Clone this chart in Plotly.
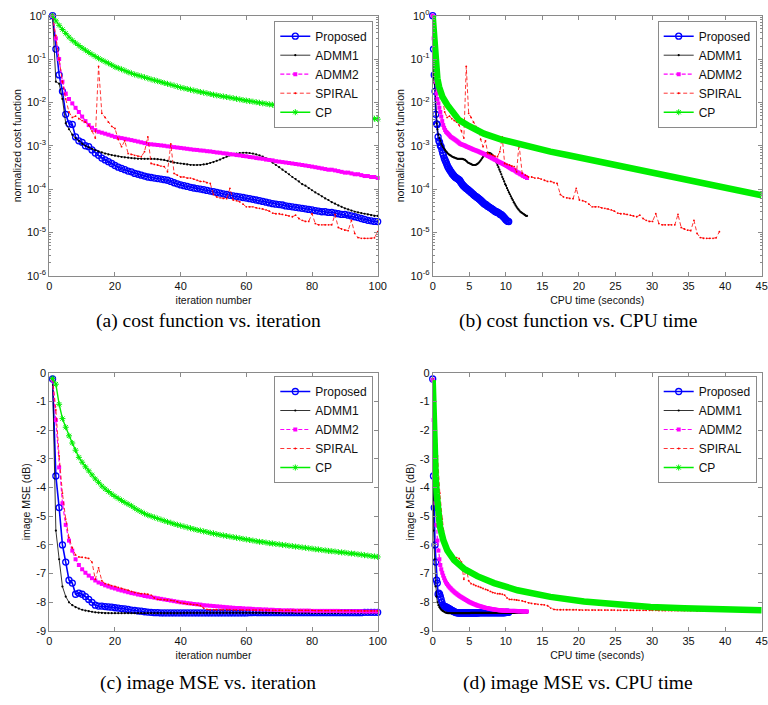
import numpy as np
import plotly.graph_objects as go

W, H = 768, 705

iterations = list(range(1, 101))

# ---------------- (a) normalized cost function vs iteration ----------------
cost_proposed = [
    1.0, 0.17, 0.043, 0.018, 0.0053, 0.0032, 0.0031, 0.0016, 0.0013, 0.0012,
    0.001, 0.00095, 0.0008, 0.00068, 0.0006, 0.00052, 0.00047, 0.00043, 0.00039, 0.00035,
    0.00032, 0.0003, 0.00028, 0.00026, 0.00025, 0.00023, 0.00022, 0.00021, 0.0002, 0.00019,
    0.000185, 0.00018, 0.000175, 0.00017, 0.000165, 0.00016, 0.00015, 0.00014, 0.000132, 0.000125,
    0.00012, 0.000115, 0.00011, 0.000106, 0.000103, 0.0001, 0.000097, 0.000093, 0.00009, 0.000087,
    0.000084, 0.000081, 0.000078, 0.000075, 0.000072, 0.00007, 0.000068, 0.000066, 0.000064, 0.000062,
    0.00006, 0.000058, 0.000056, 0.000054, 0.000052, 0.00005, 0.000048, 0.000046, 0.000045, 0.000044,
    0.000043, 0.000041, 0.00004, 0.000039, 0.000038, 0.000037, 0.000036, 0.000035, 0.000034, 0.000033,
    0.000032, 0.000031, 0.00003, 0.00003, 0.000029, 0.000029, 0.000028, 0.000027, 0.000026, 0.000026,
    0.000025, 0.000024, 0.000023, 0.000022, 0.000021, 0.00002, 0.000019, 0.0000185, 0.000018, 0.0000178]

cost_admm1 = [
    1.0, 0.03, 0.027, 0.012, 0.0033, 0.0024, 0.0018, 0.0015, 0.0013, 0.0011,
    0.001, 0.00092, 0.00085, 0.00079, 0.00074, 0.0007, 0.00066, 0.00063, 0.00061, 0.00059,
    0.00057, 0.00055, 0.00054, 0.00053, 0.00052, 0.00051, 0.0005, 0.0005, 0.0005, 0.0005,
    0.0005, 0.0005, 0.00049, 0.00048, 0.00047, 0.00045, 0.00043, 0.00041, 0.0004, 0.00039,
    0.00038, 0.00037, 0.00036, 0.00036, 0.00036, 0.00036, 0.00037, 0.00038, 0.0004, 0.00042,
    0.00045, 0.00048, 0.00052, 0.00056, 0.0006, 0.00063, 0.00066, 0.00068, 0.00069, 0.00069,
    0.00068, 0.00066, 0.00063, 0.0006, 0.00056, 0.00051, 0.00046, 0.00041, 0.00036, 0.00032,
    0.00028, 0.00025, 0.00022, 0.00019, 0.00017, 0.00015, 0.00013, 0.00012, 0.000105, 0.000094,
    0.000084, 0.000076, 0.000068, 0.000061, 0.000056, 0.00005, 0.000046, 0.000042, 0.000039, 0.000036,
    0.000034, 0.000032, 0.00003, 0.000029, 0.000028, 0.000027, 0.000026, 0.000025, 0.000024, 0.000024]

cost_admm2 = [
    1.0, 0.3, 0.1, 0.03, 0.016, 0.012, 0.0095, 0.0075, 0.006, 0.0047,
    0.0037, 0.003, 0.0026, 0.0023, 0.0021, 0.002, 0.0019, 0.0018, 0.0017, 0.0016,
    0.00155, 0.0015, 0.00145, 0.0014, 0.00135, 0.0013, 0.00125, 0.0012, 0.00115, 0.0011,
    0.00108, 0.00106, 0.00104, 0.00102, 0.001, 0.00097, 0.00095, 0.00093, 0.00091, 0.00089,
    0.00087, 0.00085, 0.00083, 0.00081, 0.0008, 0.00078, 0.00077, 0.00075, 0.00074, 0.00072,
    0.0007, 0.00069, 0.00067, 0.00066, 0.00064, 0.00063, 0.00061, 0.0006, 0.00058, 0.00057,
    0.00055, 0.00054, 0.00052, 0.00051, 0.0005, 0.00048, 0.00047, 0.00046, 0.00044, 0.00043,
    0.00042, 0.00041, 0.0004, 0.00039, 0.00038, 0.00037, 0.00036, 0.00035, 0.00034, 0.00033,
    0.00032, 0.00031, 0.0003, 0.00029, 0.00028, 0.00028, 0.00027, 0.00026, 0.00025, 0.00024,
    0.00024, 0.00023, 0.00022, 0.00022, 0.00021, 0.0002, 0.0002, 0.00019, 0.00019, 0.00018]

cost_spiral = [
    1.0, 0.35, 0.1, 0.03, 0.012, 0.006, 0.0045, 0.0048, 0.0042, 0.0038,
    0.0035, 0.003, 0.0022, 0.0015, 0.068, 0.0056, 0.0045, 0.0035, 0.0028, 0.0025,
    0.0014, 0.00095, 0.0013, 0.00066, 0.00063, 0.0006, 0.00057, 0.00056, 0.00073, 0.0016,
    0.00039, 0.00037, 0.00036, 0.00034, 0.00033, 0.00025, 0.0011, 0.00023, 0.00021, 0.00019,
    0.00019, 0.00018, 0.00018, 0.00017, 0.00016, 0.00015, 0.00015, 0.00014, 0.000135, 0.000075,
    0.000066, 0.000063, 0.000061, 0.00006, 0.000104, 0.000056, 0.000054, 0.000051, 0.000045, 0.000039,
    0.000039, 0.000039, 0.000037, 0.000036, 0.000035, 0.000033, 0.000031, 0.000028, 0.000027, 0.000027,
    0.000026, 0.000025, 0.000024, 0.000023, 0.000025, 0.000021, 0.000019, 0.000018, 0.000018, 0.000027,
    0.000016, 0.000015, 0.000015, 0.000015, 0.000015, 0.000015, 0.000026, 0.000013, 0.000012, 0.0000113,
    0.000011, 0.000019, 0.0000095, 0.0000076, 0.0000073, 0.0000073, 0.0000073, 0.0000073, 0.0000075, 0.0000104]

cost_cp = [
    1.0, 0.76, 0.6, 0.48, 0.39, 0.32, 0.27, 0.235, 0.205, 0.18,
    0.16, 0.143, 0.128, 0.115, 0.104, 0.095, 0.087, 0.08, 0.073, 0.066,
    0.062, 0.058, 0.054, 0.05, 0.047, 0.044, 0.042, 0.04, 0.038, 0.036,
    0.034, 0.0325, 0.031, 0.0295, 0.028, 0.0268, 0.0256, 0.0244, 0.0232, 0.022,
    0.0212, 0.0204, 0.0196, 0.0188, 0.0181, 0.0174, 0.0168, 0.0162, 0.0156, 0.015,
    0.0145, 0.0141, 0.0137, 0.0133, 0.0129, 0.0125, 0.0121, 0.0117, 0.0113, 0.011,
    0.0107, 0.0104, 0.0101, 0.0098, 0.0095, 0.0093, 0.009, 0.0088, 0.0085, 0.0083,
    0.0081, 0.0079, 0.0077, 0.0075, 0.0073, 0.0071, 0.0069, 0.0068, 0.0066, 0.0065,
    0.0063, 0.0062, 0.006, 0.0059, 0.0058, 0.0056, 0.0055, 0.0054, 0.0052, 0.0051,
    0.005, 0.0049, 0.0048, 0.0047, 0.0046, 0.0045, 0.0044, 0.0043, 0.0042, 0.0041]

# ---------------- (c) image MSE (dB) vs iteration ----------------
mse_proposed = [
    -0.22, -3.6, -4.7, -6.0, -6.6, -7.23, -7.33, -7.72, -7.68, -7.72,
    -7.8, -7.9, -8.0, -8.1, -8.13, -8.13, -8.15, -8.16, -8.17, -8.19,
    -8.2, -8.22, -8.23, -8.25, -8.27, -8.28, -8.3, -8.31, -8.33, -8.34,
    -8.35, -8.36, -8.36, -8.37, -8.37, -8.37, -8.37, -8.37, -8.37, -8.37,
    -8.37, -8.37, -8.37, -8.37, -8.37, -8.37, -8.37, -8.37, -8.37, -8.37,
    -8.37, -8.37, -8.37, -8.37, -8.37, -8.37, -8.37, -8.37, -8.37, -8.37,
    -8.36, -8.36, -8.36, -8.36, -8.36, -8.36, -8.36, -8.36, -8.36, -8.36,
    -8.36, -8.36, -8.36, -8.36, -8.36, -8.36, -8.36, -8.36, -8.36, -8.36,
    -8.36, -8.36, -8.36, -8.36, -8.36, -8.36, -8.36, -8.36, -8.36, -8.36,
    -8.36, -8.36, -8.36, -8.36, -8.36, -8.35, -8.35, -8.35, -8.35, -8.35]

mse_admm1 = [
    -0.22, -5.5, -6.5, -7.45, -7.8, -8.0, -8.1, -8.17, -8.22, -8.26,
    -8.29, -8.31, -8.33, -8.35, -8.36, -8.37, -8.38, -8.38, -8.38, -8.38,
    -8.38, -8.38, -8.38, -8.38, -8.38, -8.38, -8.38, -8.38, -8.38, -8.38,
    -8.38, -8.38, -8.38, -8.38, -8.38, -8.38, -8.38, -8.38, -8.38, -8.38,
    -8.37, -8.37, -8.37, -8.37, -8.37, -8.37, -8.37, -8.37, -8.37, -8.37,
    -8.37, -8.37, -8.37, -8.37, -8.37, -8.37, -8.37, -8.37, -8.37, -8.37,
    -8.37, -8.37, -8.37, -8.37, -8.37, -8.37, -8.37, -8.37, -8.37, -8.37,
    -8.37, -8.37, -8.37, -8.37, -8.37, -8.37, -8.37, -8.37, -8.37, -8.37,
    -8.37, -8.37, -8.37, -8.37, -8.37, -8.37, -8.37, -8.37, -8.37, -8.37,
    -8.36, -8.36, -8.36, -8.36, -8.36, -8.36, -8.36, -8.36, -8.36, -8.36]

mse_admm2 = [
    -0.25, -1.65, -3.3, -4.55, -5.3, -5.85, -6.2, -6.5, -6.7, -6.85,
    -6.97, -7.07, -7.16, -7.24, -7.31, -7.36, -7.41, -7.45, -7.49, -7.52,
    -7.56, -7.59, -7.62, -7.65, -7.68, -7.7, -7.73, -7.75, -7.78, -7.8,
    -7.82, -7.84, -7.86, -7.88, -7.9, -7.92, -7.94, -7.96, -7.98, -8.0,
    -8.01, -8.03, -8.04, -8.06, -8.07, -8.08, -8.1, -8.11, -8.12, -8.13,
    -8.14, -8.15, -8.16, -8.17, -8.18, -8.19, -8.2, -8.2, -8.21, -8.22,
    -8.22, -8.23, -8.24, -8.24, -8.25, -8.25, -8.26, -8.26, -8.27, -8.27,
    -8.28, -8.28, -8.28, -8.28, -8.29, -8.29, -8.29, -8.29, -8.29, -8.3,
    -8.3, -8.3, -8.3, -8.3, -8.3, -8.3, -8.3, -8.3, -8.31, -8.31,
    -8.31, -8.31, -8.31, -8.31, -8.31, -8.32, -8.32, -8.32, -8.32, -8.32]

mse_spiral = [
    -0.2, -1.3, -2.9, -4.2, -5.1, -5.75, -6.1, -6.35, -6.42, -6.43,
    -6.44, -6.47, -6.6, -7.2, -6.8, -7.25, -7.35, -7.38, -7.42, -7.45,
    -7.48, -7.52, -7.55, -7.58, -7.62, -7.66, -7.68, -7.7, -7.7, -7.72,
    -7.75, -7.85, -7.9, -7.9, -7.91, -7.92, -7.93, -7.95, -7.98, -8.02,
    -8.04, -8.06, -8.07, -8.08, -8.09, -8.12, -8.2, -8.25, -8.26, -8.26,
    -8.26, -8.26, -8.26, -8.26, -8.26, -8.27, -8.27, -8.27, -8.27, -8.27,
    -8.27, -8.27, -8.27, -8.27, -8.27, -8.27, -8.27, -8.28, -8.28, -8.28,
    -8.28, -8.28, -8.28, -8.28, -8.28, -8.28, -8.28, -8.28, -8.28, -8.28,
    -8.29, -8.29, -8.29, -8.29, -8.29, -8.29, -8.29, -8.29, -8.29, -8.29,
    -8.29, -8.29, -8.3, -8.3, -8.3, -8.3, -8.3, -8.3, -8.3, -8.3]

mse_cp = [
    -0.2, -0.4, -1.1, -1.6, -1.9, -2.2, -2.45, -2.7, -2.95, -3.12,
    -3.28, -3.42, -3.56, -3.7, -3.82, -3.95, -4.05, -4.14, -4.23, -4.31,
    -4.38, -4.45, -4.52, -4.58, -4.64, -4.72, -4.79, -4.85, -4.91, -4.96,
    -5.0, -5.04, -5.08, -5.12, -5.16, -5.2, -5.23, -5.27, -5.3, -5.33,
    -5.36, -5.39, -5.42, -5.45, -5.48, -5.5, -5.53, -5.55, -5.58, -5.6,
    -5.63, -5.65, -5.67, -5.69, -5.71, -5.73, -5.75, -5.77, -5.79, -5.81,
    -5.83, -5.85, -5.87, -5.89, -5.9, -5.92, -5.94, -5.95, -5.97, -5.98,
    -6.0, -6.01, -6.03, -6.04, -6.06, -6.07, -6.09, -6.1, -6.12, -6.13,
    -6.15, -6.16, -6.18, -6.19, -6.21, -6.22, -6.23, -6.25, -6.26, -6.27,
    -6.29, -6.3, -6.31, -6.33, -6.34, -6.36, -6.37, -6.39, -6.4, -6.42]

# ---------------- CPU time (seconds) ----------------
cpu_total_proposed = 10.4   # time at iteration 100
cpu_total_admm1 = 12.9
cpu_total_admm2 = 12.9
cpu_spiral = [
    0.0, 0.33, 0.66, 0.98, 1.31, 1.64, 1.97, 2.3, 2.62, 2.95,
    3.28, 3.61, 3.94, 4.26, 4.59, 4.92, 5.25, 5.58, 5.9, 6.23,
    6.56, 6.89, 7.22, 7.54, 7.87, 8.2, 8.53, 8.86, 9.18, 9.51,
    9.84, 10.17, 10.5, 10.82, 11.15, 11.48, 11.8, 12.24, 12.67, 13.11,
    13.54, 13.98, 14.41, 14.85, 15.28, 15.72, 16.15, 16.59, 17.02, 17.46,
    17.89, 18.33, 18.76, 19.2, 19.63, 20.07, 20.5, 20.94, 21.37, 21.81,
    22.24, 22.68, 23.11, 23.55, 23.98, 24.42, 24.85, 25.29, 25.72, 26.16,
    26.59, 27.03, 27.46, 27.9, 28.33, 28.77, 29.2, 29.64, 30.07, 30.51,
    30.94, 31.38, 31.81, 32.25, 32.68, 33.12, 33.55, 33.99, 34.42, 34.86,
    35.29, 35.73, 36.16, 36.6, 37.03, 37.47, 37.9, 38.34, 38.77, 39.21]

# CP was run longer in the CPU-time plots
cp_long_time_cost = [0, 0.09, 0.18, 0.32, 0.5, 0.64, 0.87, 1.32, 2.0, 2.46, 3.6, 4.74, 7.0, 9.3,
                     11.6, 13.9, 16.1, 18.4, 20.7, 23.0, 25.3, 27.5, 29.8, 32.1, 34.4, 36.7,
                     38.9, 41.2, 43.5, 45.0]
cp_long_cost = [1.0, 0.56, 0.23, 0.095, 0.051, 0.036, 0.023, 0.0136, 0.0087, 0.0066, 0.0039,
                0.003, 0.0019, 0.0014, 0.0011, 0.00089, 0.00073, 0.00061, 0.00051, 0.00043,
                0.00036, 0.0003, 0.00025, 0.00021, 0.00017, 0.00014, 0.00012, 0.0001,
                0.000084, 0.000072]
cp_long_time_mse = [0, 0.05, 0.09, 0.18, 0.27, 0.41, 0.55, 0.73, 1.0, 1.46, 2.0, 2.92, 4.29,
                    6.1, 8.4, 11.6, 16.1, 20.7, 25.3, 29.8, 34.4, 38.9, 45.0]
cp_long_mse = [-0.26, -0.95, -1.42, -2.23, -2.93, -3.63, -4.21, -4.79, -5.37, -5.84, -6.19,
               -6.53, -6.83, -7.09, -7.33, -7.58, -7.81, -7.97, -8.08, -8.16, -8.21, -8.24,
               -8.28]

methods = ["Proposed", "ADMM1", "ADMM2", "SPIRAL", "CP"]
captions = ["(a) cost function vs. iteration", "(b) cost function vs. CPU time",
            "(c) image MSE vs. iteration", "(d) image MSE vs. CPU time"]
log_ticks = [1e0, 1e-1, 1e-2, 1e-3, 1e-4, 1e-5, 1e-6]
log_tick_text = ["10<sup>0</sup>", "10<sup>-1</sup>", "10<sup>-2</sup>", "10<sup>-3</sup>",
                 "10<sup>-4</sup>", "10<sup>-5</sup>", "10<sup>-6</sup>"]
mse_ticks = [0, -1, -2, -3, -4, -5, -6, -7, -8, -9]
mse_tick_text = ["0", "-1", "-2", "-3", "-4", "-5", "-6", "-7", "-8", "-9"]

# ---------------- styles ----------------
STY = {
    "Proposed": dict(line=dict(color="#0000ff", width=1.6),
                     marker=dict(symbol="circle-open", size=6, color="#0000ff", line=dict(width=1.3, color="#0000ff"))),
    "ADMM1": dict(line=dict(color="#000000", width=0.8),
                  marker=dict(symbol="circle", size=2.2, color="#000000")),
    "ADMM2": dict(line=dict(color="#ff00ff", width=1.2, dash="4px,2px"),
                  marker=dict(symbol="square", size=4, color="#ff00ff")),
    "SPIRAL": dict(line=dict(color="#ff0000", width=0.8, dash="4px,2.5px"),
                   marker=dict(symbol="circle", size=1.8, color="#ff0000")),
    "CP": dict(line=dict(color="#00ee00", width=1.4),
               marker=dict(symbol="asterisk-open", size=5, color="#00ee00", line=dict(width=1, color="#00ee00"))),
}

fig = go.Figure()

def add(name, x, y, k, legend, showlegend=True):
    s = STY[name]
    fig.add_trace(go.Scatter(
        x=x, y=y, name=name, mode="lines+markers",
        line=s["line"], marker=s["marker"],
        xaxis="x" if k == 1 else f"x{k}", yaxis="y" if k == 1 else f"y{k}",
        legend=legend, showlegend=showlegend, cliponaxis=False))

cost_series = {"Proposed": cost_proposed, "ADMM1": cost_admm1, "ADMM2": cost_admm2,
               "SPIRAL": cost_spiral, "CP": cost_cp}
mse_series = {"Proposed": mse_proposed, "ADMM1": mse_admm1, "ADMM2": mse_admm2,
              "SPIRAL": mse_spiral, "CP": mse_cp}
cpu_time = {
    "Proposed": np.linspace(0, cpu_total_proposed, len(iterations)),
    "ADMM1": np.linspace(0, cpu_total_admm1, len(iterations)),
    "ADMM2": np.linspace(0, cpu_total_admm2, len(iterations)),
    "SPIRAL": cpu_spiral,
}

# (a) and (c): vs iteration
for m in methods:
    add(m, iterations, cost_series[m], 1, "legend")
for m in methods:
    add(m, iterations, mse_series[m], 3, "legend3")

# (b) and (d): vs CPU time
for k, series, leg, cpx, cpy in [(2, cost_series, "legend2", cp_long_time_cost, cp_long_cost),
                                 (4, mse_series, "legend4", cp_long_time_mse, cp_long_mse)]:
    for m in methods[:4]:
        add(m, cpu_time[m], series[m], k, leg, showlegend=False)
    fig.add_trace(go.Scatter(x=cpx, y=cpy, name="CP", mode="lines",
                             line=dict(color="#00ee00", width=6.5),
                             xaxis=f"x{k}", yaxis=f"y{k}", legend=leg, showlegend=False))
    # legend entries, drawn like the iteration plots
    for m in methods:
        s = STY[m]
        fig.add_trace(go.Scatter(x=[None], y=[None], name=m, mode="lines+markers",
                                 line=s["line"], marker=s["marker"],
                                 xaxis=f"x{k}", yaxis=f"y{k}", legend=leg, showlegend=True))

# ---------------- layout ----------------
def dx(a, b):
    return [a / W, b / W]

def dy(top, bottom):
    return [1 - bottom / H, 1 - top / H]

AX = dict(showline=True, linecolor="#8a8a8a", linewidth=1, mirror="ticks", ticks="inside",
          ticklen=4, tickcolor="#8a8a8a", showgrid=False, zeroline=False, automargin=False,
          tickfont=dict(family="Liberation Sans, Arial", size=11, color="#111"))
TITLE_FONT = dict(family="Liberation Sans, Arial", size=10.5, color="#111")

XL = (49.3, 377.7)
XR = (432.7, 761.7)
YT = (15.7, 275.8)
YB = (372.7, 631.0)

def xiter(dom, anchor):
    return dict(AX, domain=dx(*dom), anchor=anchor, range=[0, 100],
                tickvals=[0, 20, 40, 60, 80, 100],
                title=dict(text="iteration number", font=TITLE_FONT, standoff=5))

def xcpu(dom, anchor):
    return dict(AX, domain=dx(*dom), anchor=anchor, range=[0, 45],
                tickvals=list(range(0, 46, 5)),
                title=dict(text="CPU time (seconds)", font=TITLE_FONT, standoff=5))

def ylog(dom, anchor):
    return dict(AX, domain=dy(*dom), anchor=anchor, type="log", range=[-6, 0],
                tickmode="array", tickvals=log_ticks, ticktext=log_tick_text,
                minor=dict(ticks="inside", ticklen=2, tickcolor="#8a8a8a", dtick="D1"),
                title=dict(text="normalized cost function", font=TITLE_FONT, standoff=3))

def ymse(dom, anchor):
    return dict(AX, domain=dy(*dom), anchor=anchor, range=[-9, 0],
                tickmode="array", tickvals=mse_ticks, ticktext=mse_tick_text,
                title=dict(text="image MSE (dB)", font=TITLE_FONT, standoff=3))

def legend_box(right, top):
    return dict(x=right / W, y=1 - top / H, xanchor="right", yanchor="top",
                bgcolor="white", bordercolor="#8a8a8a", borderwidth=1,
                font=dict(family="Liberation Sans, Arial", size=12, color="#111"),
                itemwidth=30, tracegroupgap=0)

fig.update_layout(
    width=W, height=H, margin=dict(l=0, r=0, t=0, b=0),
    paper_bgcolor="white", plot_bgcolor="white",
    xaxis=xiter(XL, "y"), yaxis=ylog(YT, "x"),
    xaxis2=xcpu(XR, "y2"), yaxis2=ylog(YT, "x2"),
    xaxis3=xiter(XL, "y3"), yaxis3=ymse(YB, "x3"),
    xaxis4=xcpu(XR, "y4"), yaxis4=ymse(YB, "x4"),
    legend=legend_box(373.3, 20.7),
    legend2=legend_box(756.7, 20.7),
    legend3=legend_box(373.3, 376.0),
    legend4=legend_box(756.7, 376.0),
)

cap_pos = [(208, 321), (578, 321), (208, 683), (578, 683)]
for text, (cx, cy) in zip(captions, cap_pos):
    fig.add_annotation(text=text, x=cx / W, y=1 - cy / H, xref="paper", yref="paper",
                       showarrow=False, xanchor="center", yanchor="middle",
                       font=dict(family="Liberation Serif, Times New Roman", size=19.5, color="black"))

# remove the browser's default 8px page margin so the 768x705 figure fills the window
fig.write_html("out.html", config={"displayModeBar": False},
               post_script="document.body.style.margin='0px';document.body.style.overflow='hidden';")
